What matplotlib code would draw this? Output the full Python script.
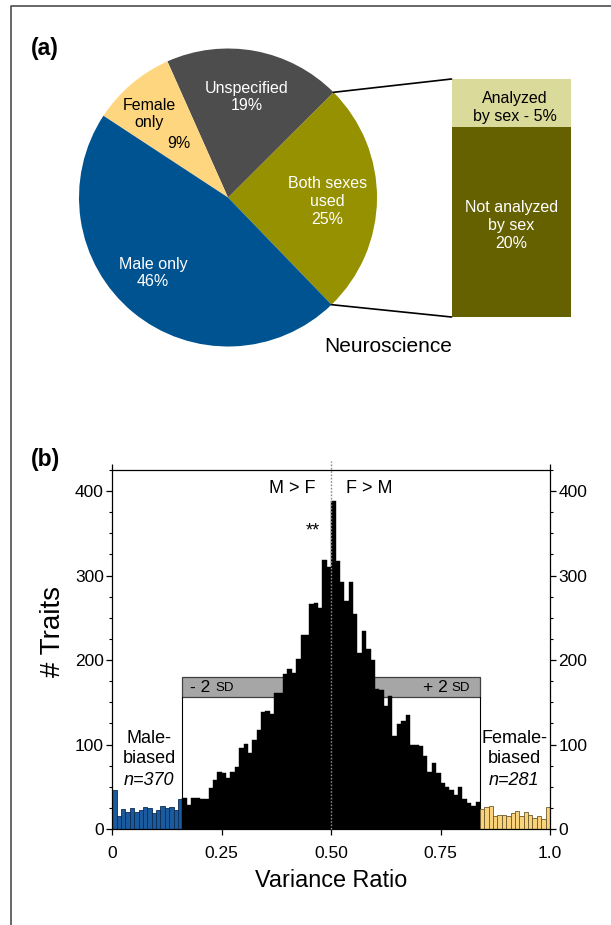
import numpy as np
import matplotlib
matplotlib.use("Agg")
import matplotlib.pyplot as plt
from matplotlib.patches import Rectangle, ConnectionPatch
from matplotlib.lines import Line2D
from matplotlib.ticker import MultipleLocator

plt.rcParams['font.family'] = ['Liberation Sans', 'DejaVu Sans']

# ---------------- data: panel (a) ----------------
pie_labels = ["Both sexes\nused\n25%", "Unspecified\n19%", "Female\nonly", "Male only\n46%"]
pie_values = [25, 19, 9, 46]
pie_colors = ["#969100", "#4D4D4D", "#FFD680", "#005391"]

stack_labels = ["Not analyzed\nby sex\n20%", "Analyzed\nby sex - 5%"]
stack_values = [20, 5]
stack_colors = ["#666100", "#DADB9B"]

# ---------------- data: panel (b) ----------------
male_counts = [46, 15, 24, 20, 25, 20, 22, 26, 25, 19, 23, 27, 25, 26, 22, 36]
mid_counts = [37, 29, 37, 37, 35, 35, 48, 58, 67, 66,
              60, 67, 73, 96, 101, 90, 105, 117, 139, 140,
              136, 161, 161, 184, 189, 185, 201, 230, 230, 266,
              267, 262, 319, 310, 388, 317, 292, 270, 292, 254,
              208, 234, 213, 200, 166, 165, 146, 157, 110, 124,
              128, 135, 99, 99, 98, 87, 68, 78, 66, 54,
              50, 46, 40, 50, 36, 31, 27, 32]
female_counts = [24, 26, 27, 15, 16, 17, 15, 19, 21, 15, 20, 17, 13, 15, 12, 26]
bin_width = 0.01
sd_low, sd_high = 0.16, 0.84
sd_band = (156, 180)
xticks = [0, 0.25, 0.5, 0.75, 1.0]
xticklabels = ["0", "0.25", "0.50", "0.75", "1.0"]
yticks = [0, 100, 200, 300, 400]

W, H = 611, 925
fig = plt.figure(figsize=(W / 100, H / 100), dpi=100)


def fr(x0, y0, x1, y1):
    """pixel box (top-left origin) -> figure fraction rect"""
    return [x0 / W, 1 - y1 / H, (x1 - x0) / W, (y1 - y0) / H]


# outer frame
fig.add_artist(Line2D([11 / W, 11 / W, 1.0], [0, 1 - 6 / H, 1 - 6 / H],
                      transform=fig.transFigure, color="#5a5a5a", lw=1.3))

# ---------------- panel (a) ----------------
cx, cy, r = 228, 197.5, 149
axp = fig.add_axes(fr(cx - 1.25 * r, cy - 1.25 * r, cx + 1.25 * r, cy + 1.25 * r))
wedges, _ = axp.pie(pie_values, colors=pie_colors, startangle=-46, counterclock=True,
                    radius=1, wedgeprops=dict(linewidth=0))
axp.set_xlim(-1.25, 1.25)
axp.set_ylim(-1.25, 1.25)
axp.axis("off")


def pp(px, py):
    return ((px - cx) / r, (cy - py) / r)


fs_a = 11.5
axp.text(*pp(327.5, 202), pie_labels[0], color="white", fontsize=fs_a,
         ha="center", va="center", linespacing=1.25)
axp.text(*pp(247, 97), pie_labels[1], color="white", fontsize=fs_a,
         ha="center", va="center", linespacing=1.25)
axp.text(*pp(149, 114), pie_labels[2], color="black", fontsize=fs_a,
         ha="center", va="center", linespacing=1.25)
axp.text(*pp(179, 143), "9%", color="black", fontsize=fs_a,
         ha="center", va="center")
axp.text(*pp(153, 273), pie_labels[3], color="white", fontsize=fs_a,
         ha="center", va="center", linespacing=1.25)

# stacked bar
axb = fig.add_axes(fr(451.5, 79, 571, 317))
bottom = 0
for v, c in zip(stack_values, stack_colors):
    axb.bar(0, v, width=1, bottom=bottom, color=c, linewidth=0)
    bottom += v
axb.set_xlim(-0.5, 0.5)
axb.set_ylim(0, sum(stack_values))
axb.axis("off")
axb.text(0.0, stack_values[0] / 2 - 0.4, stack_labels[0], color="white", fontsize=fs_a,
         ha="center", va="center", linespacing=1.25)
axb.text(0.03, stack_values[0] + 2.0, stack_labels[1], color="black", fontsize=fs_a,
         ha="center", va="center", linespacing=1.25)

# connector lines from the "Both sexes" wedge edges to the bar
w0 = wedges[0]
for ang, ybar in [(w0.theta2, sum(stack_values)), (w0.theta1, 0)]:
    t = np.deg2rad(ang)
    con = ConnectionPatch(xyA=(np.cos(t), np.sin(t)), coordsA=axp.transData,
                          xyB=(-0.5, ybar), coordsB=axb.transData,
                          color="black", lw=1.2)
    fig.add_artist(con)

fig.text(388 / W, 1 - 346 / H, "Neuroscience", fontsize=15, ha="center", va="center")
fig.text(31 / W, 1 - 49 / H, "(a)", fontsize=16.5, fontweight="bold", ha="left", va="center")

# ---------------- panel (b) ----------------
ax = fig.add_axes(fr(112.3, 470, 550, 829))
nm, nmid, nf = len(male_counts), len(mid_counts), len(female_counts)
lefts = np.arange(nm + nmid + nf) * bin_width
ax.bar(lefts[:nm], male_counts, width=bin_width, align="edge",
       color="#1A5A9E", edgecolor="#0B2C52", linewidth=0.6, zorder=2)
ax.bar(lefts[nm:nm + nmid], mid_counts, width=bin_width, align="edge",
       color="black", edgecolor="black", linewidth=0.3, zorder=2)
ax.bar(lefts[nm + nmid:], female_counts, width=bin_width, align="edge",
       color="#F9D27C", edgecolor="#6E5A2A", linewidth=0.6, zorder=2)

# +/- 2 SD band
ax.add_patch(Rectangle((sd_low, sd_band[0]), sd_high - sd_low, sd_band[1] - sd_band[0],
                       facecolor="#A6A6A6", edgecolor="#404040", linewidth=0.9, zorder=1))
for xv in (sd_low, sd_high):
    ax.plot([xv, xv], [0, sd_band[0]], color="black", lw=0.8, zorder=1.5)
ax.text(sd_low + 0.018, sum(sd_band) / 2, "- 2 ", fontsize=12.5, ha="left", va="center", zorder=3)
ax.text(sd_low + 0.075, sum(sd_band) / 2 - 1.5, "SD", fontsize=9.5, ha="left", va="center", zorder=3)
ax.text(sd_high - 0.022, sum(sd_band) / 2 - 1.5, "SD", fontsize=9.5, ha="right", va="center", zorder=3)
ax.text(sd_high - 0.073, sum(sd_band) / 2, "+ 2", fontsize=12.5, ha="right", va="center", zorder=3)

ax.axvline(0.5, ymin=0, ymax=1.025, color="#8a8a8a", ls=(0, (1.2, 1.2)), lw=1.0,
           zorder=4, clip_on=False)

ax.text(0.412, 403, "M > F", fontsize=13, ha="center", va="center")
ax.text(0.588, 403, "F > M", fontsize=13, ha="center", va="center")
ax.text(0.4575, 353, "**", fontsize=13, ha="center", va="center")
ax.text(0.084, 95, "Male-\nbiased", fontsize=13, ha="center", va="center", linespacing=1.2)
ax.text(0.084, 57, "n=370", fontsize=13, style="italic", ha="center", va="center")
ax.text(0.918, 95, "Female-\nbiased", fontsize=13, ha="center", va="center", linespacing=1.2)
ax.text(0.918, 57, "n=281", fontsize=13, style="italic", ha="center", va="center")

ax.set_xlim(0, 1)
ax.set_ylim(0, 425)
ax.set_xticks(xticks)
ax.set_xticklabels(xticklabels)
ax.set_yticks(yticks)
ax.yaxis.set_minor_locator(MultipleLocator(25))
ax.tick_params(axis="x", direction="out", length=4, width=0.9, labelsize=12.5, pad=8)
ax.tick_params(axis="y", which="major", direction="out", length=4, width=0.9,
               labelsize=12.5, pad=2, left=True, right=True, labelleft=True, labelright=True)
ax.tick_params(axis="y", which="minor", direction="out", length=2.5, width=0.8,
               left=True, right=True)
for s in ax.spines.values():
    s.set_linewidth(0.9)
sec = ax.secondary_xaxis("top")
sec.set_xticks([0, 1])
sec.tick_params(direction="out", length=4, width=0.9, labeltop=False)
sec.spines["top"].set_visible(False)

ax.set_xlabel("Variance Ratio", fontsize=16.8)
ax.xaxis.set_label_coords(0.5, -0.112)
ax.xaxis.label.set_va("top")
ax.set_ylabel("# Traits", fontsize=20)
ax.yaxis.set_label_coords(-0.105, 0.55)

fig.text(31 / W, 1 - 459 / H, "(b)", fontsize=16.5, fontweight="bold", ha="left", va="center")

fig.savefig("out.png", dpi=100)
